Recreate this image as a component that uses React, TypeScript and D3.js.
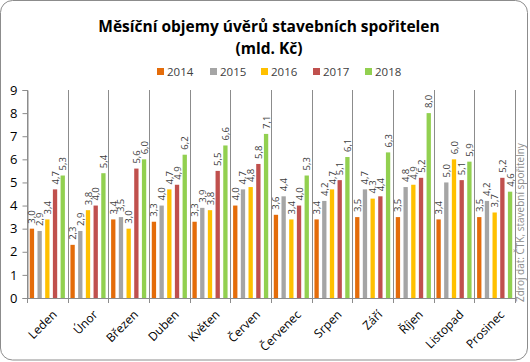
import React, { useEffect, useRef } from "react";
import * as d3 from "d3";

const months = ["Leden", "Únor", "Březen", "Duben", "Květen", "Červen", "Červenec", "Srpen", "Září", "Říjen", "Listopad", "Prosinec"];
const years = ["2014", "2015", "2016", "2017", "2018"];

const v2014 = [3.0, 2.3, 3.4, 3.3, 3.3, 4.0, 3.6, 3.4, 3.5, 3.5, 3.4, 3.5];
const v2015 = [2.9, 2.9, 3.5, 4.0, 3.9, 4.7, 4.4, 4.2, 4.7, 4.8, 5.0, 4.2];
const v2016 = [3.4, 3.8, 3.0, 4.7, 3.8, 4.8, 3.4, 4.7, 4.3, 4.9, 6.0, 3.7];
const v2017 = [4.7, 4.0, 5.6, 4.9, 5.5, 5.8, 4.0, 5.1, 4.4, 5.2, 5.1, 5.2];
const v2018 = [5.3, 5.4, 6.0, 6.2, 6.6, 7.1, 5.3, 6.1, 6.3, 8.0, 5.9, 4.6];

const yTicks = [0, 1, 2, 3, 4, 5, 6, 7, 8, 9];

const colors = ["#E46C0A", "#A5A5A5", "#FFC000", "#C0504D", "#92D050"];

const W = 530;
const H = 362;
const FONT = "'Open Sans', 'DejaVu Sans', sans-serif";

export default function App() {
    const svgRef = useRef<SVGSVGElement | null>(null);

    useEffect(() => {
        if (!svgRef.current) return;
        const svg = d3.select(svgRef.current);
        svg.selectAll("*").remove();

        const series = [v2014, v2015, v2016, v2017, v2018];
        const left = 27, right = 515, top = 90, bottom = 298;

        // rámeček grafu
        svg.append("rect")
            .attr("x", 0.5).attr("y", 0.5)
            .attr("width", W - 3).attr("height", H - 2.5)
            .attr("rx", 12)
            .attr("fill", "#fff")
            .attr("stroke", "#8c8c8c");

        // titulek
        const title = svg.append("text")
            .attr("text-anchor", "middle")
            .attr("font-family", FONT)
            .attr("font-weight", "bold")
            .attr("font-size", 15.5)
            .attr("fill", "#000");
        title.append("tspan").attr("x", 269).attr("y", 32).text("Měsíční objemy úvěrů stavebních spořitelen");
        title.append("tspan").attr("x", 269).attr("y", 54).text("(mld. Kč)");

        // legenda
        const legendX = [157, 210, 261, 313, 365];
        years.forEach((yr, i) => {
            svg.append("rect")
                .attr("x", legendX[i]).attr("y", 68)
                .attr("width", 7).attr("height", 7)
                .attr("fill", colors[i]);
            svg.append("text")
                .attr("x", legendX[i] + 10).attr("y", 76)
                .attr("font-family", FONT)
                .attr("font-size", 11.5)
                .attr("fill", "#404040")
                .text(yr);
        });

        const x = d3.scaleBand<string>().domain(months).range([left, right]).padding(0);
        const x1 = d3.scaleBand<string>().domain(years).range([0, x.bandwidth()])
            .paddingInner(0.44).paddingOuter(0.36);
        const y = d3.scaleLinear().domain([0, 9]).range([bottom, top]);

        // svislé oddělovače kategorií
        const bounds = months.map((m) => x(m) as number).concat([right]);
        svg.append("g")
            .selectAll("line")
            .data(bounds)
            .enter()
            .append("line")
            .attr("x1", (d) => Math.round(d) + 0.5)
            .attr("x2", (d) => Math.round(d) + 0.5)
            .attr("y1", top)
            .attr("y2", bottom + 5)
            .attr("stroke", "#8c8c8c");

        // osa y
        const yAxis = svg.append("g")
            .attr("transform", `translate(${left + 0.5},0)`)
            .call(d3.axisLeft(y).tickValues(yTicks).tickSize(5).tickPadding(5));
        yAxis.select(".domain").attr("stroke", "#8c8c8c");
        yAxis.selectAll(".tick line").attr("stroke", "#8c8c8c");
        yAxis.selectAll("text")
            .attr("font-family", FONT)
            .attr("font-size", 13)
            .attr("fill", "#000");

        // sloupce
        series.forEach((vals, si) => {
            svg.append("g")
                .selectAll("rect")
                .data(vals)
                .enter()
                .append("rect")
                .attr("x", (d, i) => (x(months[i]) as number) + (x1(years[si]) as number))
                .attr("y", (d) => y(d))
                .attr("width", x1.bandwidth())
                .attr("height", (d) => bottom - y(d))
                .attr("fill", colors[si]);

            svg.append("g")
                .selectAll("text")
                .data(vals)
                .enter()
                .append("text")
                .attr("transform", (d, i) => {
                    const cx = (x(months[i]) as number) + (x1(years[si]) as number) + x1.bandwidth() / 2;
                    return `translate(${cx},${y(d) - 5}) rotate(-90)`;
                })
                .attr("dominant-baseline", "central")
                .attr("font-family", FONT)
                .attr("font-size", 9.5)
                .attr("fill", "#404040")
                .text((d) => d.toFixed(1).replace(".", ","));
        });

        // osa x
        svg.append("line")
            .attr("x1", left).attr("x2", right + 1)
            .attr("y1", bottom + 0.5).attr("y2", bottom + 0.5)
            .attr("stroke", "#8c8c8c");

        svg.append("g")
            .selectAll("text")
            .data(months)
            .enter()
            .append("text")
            .attr("transform", (d) => `translate(${(x(d) as number) + x.bandwidth() / 2 + 3},${bottom + 10}) rotate(-45)`)
            .attr("text-anchor", "end")
            .attr("dominant-baseline", "hanging")
            .attr("font-family", FONT)
            .attr("font-size", 12)
            .attr("fill", "#000")
            .text((d) => d);

        // zdroj
        svg.append("text")
            .attr("transform", `translate(524,302) rotate(-90)`)
            .attr("font-family", FONT)
            .attr("font-size", 10)
            .attr("fill", "#8c8c8c")
            .text("Zdroj dat: ČTK, stavební spořitelny");
    }, []);

    return (
        <div style={{ position: "absolute", left: 0, top: 0 }}>
            <svg ref={svgRef} width={W} height={H}></svg>
        </div>
    );
}
